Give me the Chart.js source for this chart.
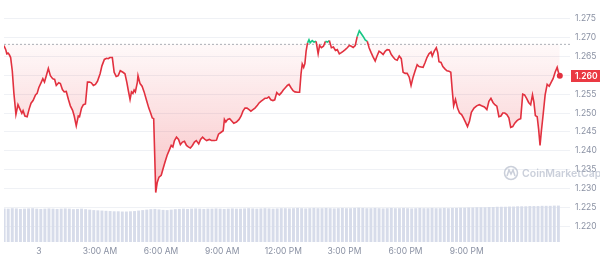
<!DOCTYPE html>
<html>
<head>
<meta charset="utf-8">
<script src="https://cdn.jsdelivr.net/npm/chart.js@4.4.1/dist/chart.umd.min.js"></script>
<style>
html,body{margin:0;padding:0;background:#fff;}
canvas{display:block;}
</style>
</head>
<body>
<canvas id="c" width="600" height="259"></canvas>
<script>
// ---- DATA ----
// hours relative to midnight of day "3"
const priceHours = [-1.71,-1.62,-1.57,-1.51,-1.45,-1.38,-1.30,-1.22,-1.12,-1.02,-0.93,-0.83,-0.77,-0.68,-0.57,-0.47,-0.38,-0.28,-0.16,-0.08,
0.00,0.11,0.20,0.28,0.36,0.47,0.57,0.68,0.78,0.86,0.98,1.06,1.16,1.25,1.35,1.46,1.55,1.66,1.74,1.84,1.94,2.00,2.10,2.19,2.29,2.39,2.49,2.58,2.68,2.78,2.88,
3.01,3.10,3.22,3.33,3.41,3.49,3.61,3.70,3.80,3.90,4.00,4.13,4.23,4.32,4.39,4.48,4.55,4.62,4.68,4.74,4.84,4.87,4.97,5.07,5.17,5.28,5.40,5.49,5.57,5.64,5.69,5.74,5.81,5.90,
6.01,6.11,6.20,6.30,6.40,6.50,6.58,6.66,6.76,6.86,6.95,7.05,7.15,7.25,7.34,7.44,7.54,7.64,7.73,7.85,7.94,8.04,8.14,8.24,8.37,8.47,8.63,8.72,8.82,8.95,
9.05,9.11,9.18,9.27,9.37,9.47,9.57,9.70,9.83,9.93,10.02,10.12,10.22,10.32,10.41,10.51,10.61,10.71,10.80,10.90,11.00,11.10,11.19,11.29,11.39,11.49,11.58,11.68,11.75,11.81,11.91,
12.00,12.10,12.20,12.28,12.38,12.48,12.57,12.70,12.80,12.87,12.93,13.00,13.06,13.12,13.19,13.26,13.32,13.42,13.51,13.61,13.71,13.78,13.87,13.97,14.07,14.17,14.26,14.36,14.46,14.56,14.65,14.75,14.85,14.95,
15.04,15.14,15.24,15.34,15.43,15.53,15.63,15.73,15.82,15.92,16.02,16.12,16.21,16.31,16.41,16.51,16.60,16.70,16.80,16.90,17.01,17.10,17.20,17.30,17.40,17.49,17.59,17.69,17.79,17.88,17.98,
18.08,18.18,18.27,18.37,18.47,18.57,18.66,18.76,18.86,18.96,19.05,19.15,19.25,19.31,19.41,19.51,19.58,19.64,19.74,19.83,19.93,20.03,20.13,20.22,20.29,20.36,20.45,20.55,20.65,20.75,20.84,20.94,
21.04,21.14,21.23,21.36,21.49,21.62,21.73,21.87,21.99,22.09,22.19,22.29,22.38,22.48,22.58,22.68,22.77,22.87,22.97,23.07,23.16,23.26,23.36,23.46,23.55,23.65,23.75,23.84,23.94,
24.04,24.14,24.23,24.30,24.37,24.46,24.53,24.60,24.66,24.76,24.85,24.95,25.05,25.15,25.24,25.34,25.44,25.50,25.57];

const prices = [1.2679,1.2668,1.2657,1.2659,1.2655,1.2647,1.2612,1.2552,1.2496,1.2522,1.2511,1.2499,1.2506,1.2492,1.2490,1.2511,1.2526,1.2533,1.2548,1.2552,
1.2567,1.2580,1.2591,1.2582,1.2597,1.2618,1.2599,1.2591,1.2589,1.2573,1.2580,1.2578,1.2562,1.2556,1.2557,1.2535,1.2519,1.2507,1.2492,1.2466,1.2492,1.2490,1.2513,1.2522,1.2524,1.2582,1.2582,1.2580,1.2573,1.2576,1.2584,
1.2604,1.2625,1.2642,1.2645,1.2644,1.2647,1.2647,1.2608,1.2597,1.2599,1.2612,1.2608,1.2604,1.2582,1.2561,1.2536,1.2556,1.2552,1.2561,1.2556,1.2582,1.2599,1.2578,1.2571,1.2556,1.2535,1.2513,1.2500,1.2487,1.2485,1.2388,1.2289,1.2315,1.2330,
1.2335,1.2354,1.2371,1.2388,1.2401,1.2414,1.2410,1.2427,1.2436,1.2430,1.2416,1.2423,1.2425,1.2414,1.2410,1.2407,1.2414,1.2423,1.2427,1.2418,1.2430,1.2436,1.2431,1.2427,1.2430,1.2427,1.2427,1.2428,1.2444,1.2449,
1.2453,1.2483,1.2476,1.2483,1.2485,1.2479,1.2473,1.2476,1.2483,1.2492,1.2505,1.2513,1.2513,1.2509,1.2505,1.2509,1.2513,1.2519,1.2526,1.2531,1.2535,1.2539,1.2539,1.2543,1.2535,1.2533,1.2535,1.2554,1.2550,1.2548,1.2554,
1.2561,1.2567,1.2573,1.2576,1.2567,1.2559,1.2556,1.2555,1.2555,1.2604,1.2630,1.2621,1.2631,1.2664,1.2686,1.2694,1.2686,1.2692,1.2688,1.2690,1.2657,1.2679,1.2673,1.2677,1.2690,1.2688,1.2692,1.2673,1.2675,1.2666,1.2668,1.2657,1.2660,1.2664,
1.2668,1.2673,1.2679,1.2677,1.2674,1.2679,1.2703,1.2718,1.2711,1.2703,1.2694,1.2690,1.2673,1.2660,1.2648,1.2638,1.2651,1.2664,1.2660,1.2655,1.2664,1.2668,1.2667,1.2655,1.2648,1.2642,1.2640,1.2651,1.2644,1.2608,1.2605,
1.2605,1.2595,1.2573,1.2595,1.2612,1.2628,1.2623,1.2622,1.2621,1.2634,1.2647,1.2657,1.2662,1.2651,1.2664,1.2673,1.2660,1.2636,1.2634,1.2623,1.2617,1.2612,1.2611,1.2608,1.2561,1.2519,1.2536,1.2513,1.2500,1.2496,1.2487,1.2476,
1.2464,1.2479,1.2502,1.2513,1.2519,1.2522,1.2519,1.2516,1.2509,1.2531,1.2539,1.2528,1.2522,1.2518,1.2490,1.2492,1.2500,1.2500,1.2496,1.2487,1.2462,1.2464,1.2473,1.2479,1.2483,1.2485,1.2550,1.2548,1.2539,
1.2528,1.2522,1.2548,1.2528,1.2493,1.2490,1.2457,1.2414,1.2449,1.2500,1.2548,1.2576,1.2571,1.2582,1.2591,1.2608,1.2621,1.2608,1.2599];

const refPrice = 1.2682;           // previous close (dotted line)
const volStartHour = -1.7;         // first volume bar
const volStepHours = 0.2;          // spacing of volume bars
const volumes = [14.1,14.0,14.2,14.1,13.9,14.0,14.1,14.2,14.0,13.9,14.0,14.1,14.0,13.9,14.0,14.1,14.0,13.8,13.9,14.0,13.8,
13.6,13.4,13.3,13.2,13.1,13.0,12.9,12.9,12.8,12.8,12.9,13.0,13.2,13.4,13.6,
13.8,13.9,13.7,13.5,13.4,13.6,13.8,13.9,14.0,13.9,14.0,14.1,14.0,13.9,14.0,
14.0,14.1,14.0,13.9,14.0,14.1,14.0,14.0,14.1,14.2,14.1,14.0,14.1,14.2,14.1,14.0,14.1,14.2,14.2,14.1,
14.2,14.3,14.2,14.1,14.2,14.3,14.2,14.2,14.3,14.2,14.1,14.2,14.3,14.2,14.2,14.3,14.4,14.3,14.2,14.2,14.3,14.2,14.1,14.2,14.3,14.2,14.2,14.3,14.2,14.1,14.2,14.3,14.2,14.2,14.3,14.2,14.2,14.3,14.2,14.3,
14.3,14.4,14.4,14.5,14.5,14.6,14.6,14.6,14.7,14.7,14.8,14.8,14.8,14.9,14.9,15.0,15.0,15.0,15.1,15.1,15.1,15.2,15.2,15.2,15.3,15.3];

const xTickHours = [0,3,6,9,12,15,18,21];
const xTickLabels = ["3","3:00 AM","6:00 AM","9:00 AM","12:00 PM","3:00 PM","6:00 PM","9:00 PM"];
const yTicks = [1.220,1.225,1.230,1.235,1.240,1.245,1.250,1.255,1.260,1.265,1.270,1.275];

// ---- STYLE ----
const RED = '#e2313f', GREEN = '#16c784', TICK = '#8a91a3';
const X_MIN = -1.706, X_MAX = 26.07, Y_MIN = 1.2158, Y_MAX = 1.2789;

const pricePoints = priceHours.map((h,i)=>({x:h,y:prices[i]}));
const volPoints = volumes.map((v,i)=>({x:volStartHour+i*volStepHours,y:v}));
const lastIdx = prices.length-1;

function belowGradient(ctx){
  const chart = ctx.chart; const area = chart.chartArea;
  if(!area) return 'rgba(234,57,67,0.1)';
  const y = chart.scales.y;
  const top = y.getPixelForValue(refPrice);
  const bot = y.getPixelForValue(Math.min(...prices));
  const g = chart.ctx.createLinearGradient(0, top, 0, bot);
  g.addColorStop(0, 'rgba(234,57,67,0.03)');
  g.addColorStop(1, 'rgba(234,57,67,0.30)');
  return g;
}

const overlay = {
  id:'overlay',
  beforeDatasetsDraw(chart){
    const c = chart.ctx;
    c.save();
    const cx = 511, cy = 173;
    c.strokeStyle = 'rgba(180,187,202,0.7)'; c.lineWidth = 1.5;
    c.beginPath(); c.arc(cx, cy, 6.5, 0, Math.PI*2); c.stroke();
    c.beginPath(); c.moveTo(cx-4, cy+3); c.lineTo(cx-2, cy-3); c.lineTo(cx, cy+1); c.lineTo(cx+2, cy-3); c.lineTo(cx+4, cy+3); c.stroke();
    c.fillStyle = 'rgba(180,187,202,0.7)';
    c.font = '600 10.5px Inter, "Noto Sans", sans-serif';
    c.textBaseline = 'middle'; c.textAlign = 'left';
    c.fillText('CoinMarketCap', 522, cy+0.5);
    c.restore();
  },
  afterDraw(chart){
    const c = chart.ctx, y = chart.scales.y;
    const last = prices[lastIdx];
    const py = Math.round(y.getPixelForValue(last));
    const left = chart.chartArea.right + 1;
    c.save();
    c.fillStyle = '#ea3943';
    c.fillRect(left, py-6, chart.width-left, 12);
    c.fillStyle = '#fff';
    c.font = '600 8.5px Inter, "Noto Sans", sans-serif';
    c.textBaseline = 'middle'; c.textAlign = 'left';
    c.fillText(last.toFixed(3), left+4, py+0.5);
    c.restore();
  }
};

new Chart(document.getElementById('c'), {
  data: {
    datasets: [
      {
        type:'line', label:'Price', data: pricePoints, order:1,
        borderColor: RED, borderWidth: 1.6, tension: 0,
        segment: { borderColor: ctx => (ctx.p0.parsed.y >= refPrice && ctx.p1.parsed.y >= refPrice) ? GREEN : RED },
        pointRadius: ctx => ctx.dataIndex === lastIdx ? 3 : 0,
        pointBackgroundColor: RED, pointBorderColor: RED, pointBorderWidth: 0,
        backgroundColor: belowGradient,
        fill: { target: { value: refPrice }, above: 'rgba(22,199,132,0.05)' },
        yAxisID:'y'
      },
      {
        type:'line', label:'Ref', data:[{x:X_MIN,y:refPrice},{x:X_MAX,y:refPrice}], order:2,
        borderColor:'#adb1b9', borderWidth:1, borderDash:[2,2], pointRadius:0, fill:false, yAxisID:'y'
      },
      {
        type:'bar', label:'Volume', data: volPoints, order:3,
        backgroundColor:'#d7dcea', borderWidth:0, barPercentage:1, categoryPercentage:0.72,
        yAxisID:'yv'
      }
    ]
  },
  options: {
    responsive:false, animation:false,
    layout:{ padding:{ top:0, bottom:2, left:0, right:0 } },
    plugins:{ legend:{display:false}, tooltip:{enabled:false} },
    scales:{
      x:{
        type:'linear', min:X_MIN, max:X_MAX, offset:false,
        grid:{ display:false, drawTicks:false, offset:false }, border:{display:false},
        afterBuildTicks: s => { s.ticks = xTickHours.map(v=>({value:v})); },
        afterFit: s => { s.height = 15; s.paddingLeft = 0; s.paddingRight = 0; },
        ticks:{ autoSkip:false, maxRotation:0, padding:4, color:TICK,
          font:{ family:'Inter, "Noto Sans", sans-serif', size:8.5 },
          callback:(v,i)=> xTickLabels[i] }
      },
      y:{
        type:'linear', position:'right', min:Y_MIN, max:Y_MAX,
        grid:{ color:'#eff1f5', drawTicks:false }, border:{display:false},
        afterBuildTicks: s => { s.ticks = yTicks.map(v=>({value:v})); },
        afterFit: s => { s.width = 30; s.paddingTop = 0; s.paddingBottom = 0; },
        ticks:{ padding:5, color:TICK, font:{ family:'Inter, "Noto Sans", sans-serif', size:8.5 },
          callback: v => v.toFixed(3) }
      },
      yv:{ type:'linear', display:false, min:0, max:100 }
    }
  },
  plugins:[overlay]
});
</script>
</body>
</html>
